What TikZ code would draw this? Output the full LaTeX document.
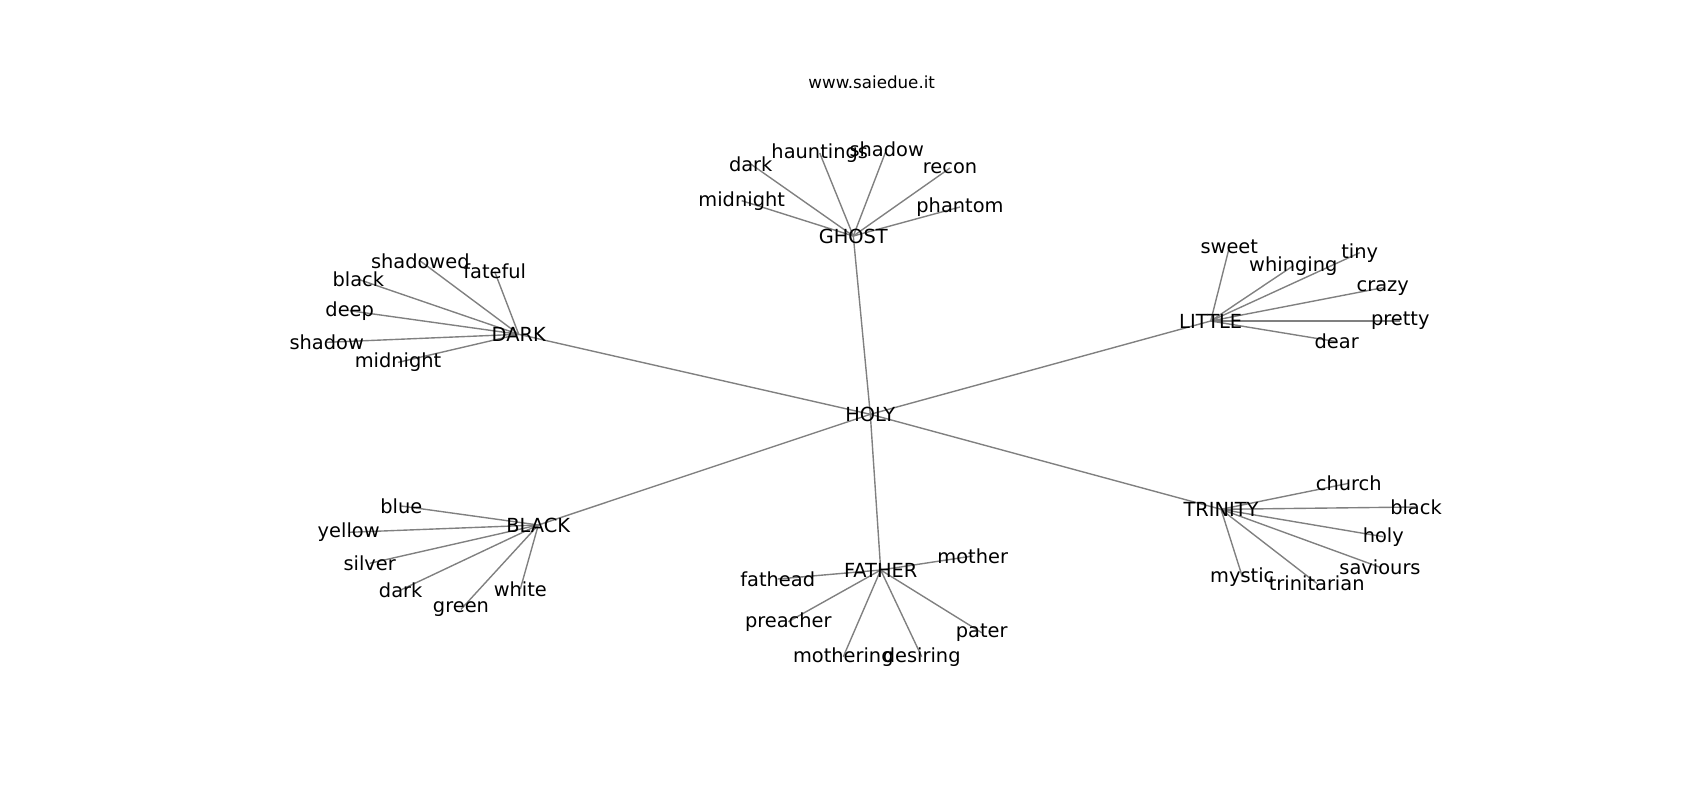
\documentclass[tikz,border=0pt]{standalone}
\usepackage{fontspec}
\setmainfont{DejaVu Sans}
\usetikzlibrary{backgrounds}
\tikzset{
  lbl/.style={font=\fontsize{19.4}{23}\selectfont, inner sep=0pt, text=black},
  wm/.style={font=\fontsize{16.7}{20}\selectfont, inner sep=0pt, text=black},
  edge/.style={draw=gray, line width=1.39pt}
}
\begin{document}
\begin{tikzpicture}[x=1pt,y=-1pt]
\useasboundingbox (0,0) rectangle (1700,800);
\node[wm] (wm) at (871.7,82.7) {www.saiedue.it};
% hubs
\node[lbl] (HOLY) at (870.3,414.3) {HOLY};
\node[lbl] (GHOST) at (853.3,236) {GHOST};
\node[lbl] (DARK) at (518.7,334.3) {DARK};
\node[lbl] (LITTLE) at (1210.7,321) {LITTLE};
\node[lbl] (BLACK) at (538.3,525) {BLACK};
\node[lbl] (FATHER) at (880.7,570) {FATHER};
\node[lbl] (TRINITY) at (1221,509.3) {TRINITY};
% ghost leaves
\node[lbl] (g1) at (750.7,164) {dark};
\node[lbl] (g2) at (819.7,153) {hauntings};
\node[lbl] (g3) at (886.7,149) {shadow};
\node[lbl] (g4) at (950,168) {recon};
\node[lbl] (g5) at (741.7,200.7) {midnight};
\node[lbl] (g6) at (960,207) {phantom};
% dark leaves
\node[lbl] (d1) at (420.3,261) {shadowed};
\node[lbl] (d2) at (494.7,271.7) {fateful};
\node[lbl] (d3) at (358.3,279.3) {black};
\node[lbl] (d4) at (349.7,310.7) {deep};
\node[lbl] (d5) at (326.7,342.3) {shadow};
\node[lbl] (d6) at (398,362.4) {midnight};
% little leaves
\node[lbl] (l1) at (1229.3,247.3) {sweet};
\node[lbl] (l2) at (1293.3,265.7) {whinging};
\node[lbl] (l3) at (1359.7,252.7) {tiny};
\node[lbl] (l4) at (1382.7,287.7) {crazy};
\node[lbl] (l5) at (1400.3,321) {pretty};
\node[lbl] (l6) at (1336.7,341.7) {dear};
% black leaves
\node[lbl] (b1) at (401.3,506) {blue};
\node[lbl] (b2) at (348.7,532.3) {yellow};
\node[lbl] (b3) at (369.7,563.3) {silver};
\node[lbl] (b4) at (400.7,590) {dark};
\node[lbl] (b5) at (461,609.3) {green};
\node[lbl] (b6) at (520.3,589) {white};
% father leaves
\node[lbl] (f1) at (972.7,556) {mother};
\node[lbl] (f2) at (777.7,579) {fathead};
\node[lbl] (f3) at (788.3,621.7) {preacher};
\node[lbl] (f4) at (981.7,632.7) {pater};
\node[lbl] (f5) at (843.3,656.7) {mothering};
\node[lbl] (f6) at (921.7,656.7) {desiring};
% trinity leaves
\node[lbl] (t1) at (1348.7,483.3) {church};
\node[lbl] (t2) at (1416,507) {black};
\node[lbl] (t3) at (1383.3,536.7) {holy};
\node[lbl] (t4) at (1380,567.3) {saviours};
\node[lbl] (t5) at (1242.3,576.7) {mystic};
\node[lbl] (t6) at (1316.7,583.3) {trinitarian};
\begin{pgfonlayer}{background}
\foreach \h in {GHOST,DARK,LITTLE,BLACK,FATHER,TRINITY}
  \draw[edge] (HOLY.center) -- (\h.center);
\foreach \n in {1,...,6}{
  \draw[edge] (GHOST.center) -- (g\n.center);
  \draw[edge] (DARK.center) -- (d\n.center);
  \draw[edge] (LITTLE.center) -- (l\n.center);
  \draw[edge] (BLACK.center) -- (b\n.center);
  \draw[edge] (FATHER.center) -- (f\n.center);
  \draw[edge] (TRINITY.center) -- (t\n.center);
}
\end{pgfonlayer}
\end{tikzpicture}
\end{document}
